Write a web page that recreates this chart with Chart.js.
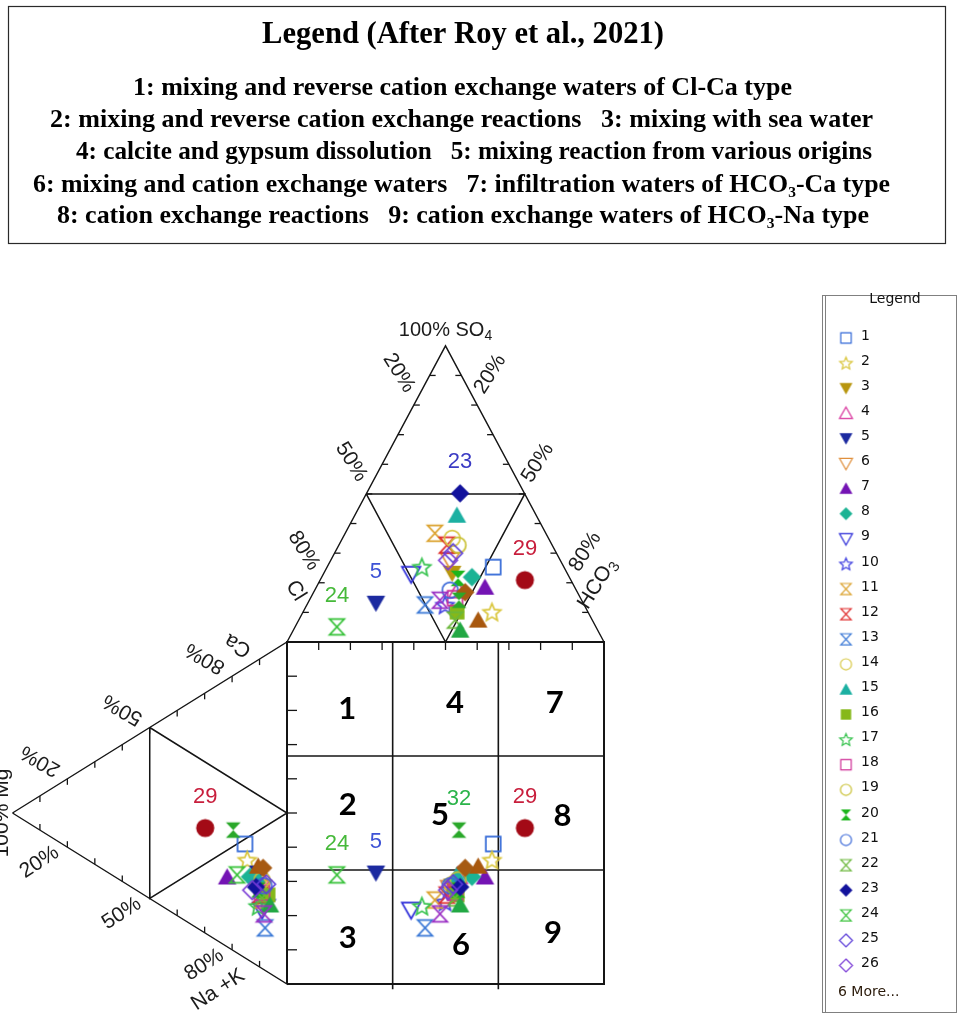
<!DOCTYPE html>
<html>
<head>
<meta charset="utf-8">
<script src="https://cdn.jsdelivr.net/npm/chart.js@4.4.1/dist/chart.umd.min.js"></script>
<style>
  html, body { margin: 0; padding: 0; background: #ffffff; }
  #wrap { position: relative; width: 958px; height: 1015px; }
</style>
</head>
<body>
<div id="wrap"><canvas id="durov" width="958" height="1015"></canvas></div>
<script>
// ---- Sample identifiers and ionic composition (% of meq/L) ----
const sampleIds = ['1','2','3','4','5','6','7','8','9','10','11','12','13','14','15','16',
                   '17','18','19','20','21','22','23','24','25','26','27','28','29','30','31','32'];
// anions
const clPct   = [22.3,30.3,36.3,37.3,65.4,34.8,28.3,30.7,49.4,43.9,35.0,33.2,50.2,30.4,25.0,41.3,
                 44.8,39.6,29.7,35.3,39.8,43.3,20.3,81.7,32.6,35.4,36.0,35.4,14.5,43.4,44.7,38.7];
const so4Pct  = [25.3,10.1,23.2,17.5,13.1,27.6,18.5,21.9,22.9,12.5,36.7,32.7,12.5,35.0,42.8,10.1,
                 25.3,14.8,32.7,21.5,17.5, 7.4,50.2, 5.1,30.0,27.6, 7.4,16.8,20.9, 4.0,14.1,14.1];
const hco3Pct = [52.4,59.6,40.5,45.2,21.5,37.6,53.2,47.4,27.7,43.6,28.3,34.1,37.3,34.6,32.2,48.6,
                 29.9,45.6,37.6,43.2,42.7,49.3,29.5,13.2,37.4,37.0,56.6,47.8,64.6,52.6,41.2,47.2];
// cations
const caPct   = [33.3,29.0,23.4,26.7,27.2,23.5,20.4,24.6,17.1,20.2,20.0,21.1,12.4,23.9,26.2,22.6,
                 17.5,22.1,25.9,22.2,24.5,20.6,22.7,22.8,25.4,21.1,29.2,29.6,30.7,20.0,16.3,35.2];
const mgPct   = [15.3,14.5,10.5, 9.8,10.5, 9.1,21.8,13.5, 9.1, 7.6, 9.1, 9.8, 8.0,10.5,11.3, 6.9,
                 10.5, 9.1, 9.1,10.5, 8.4, 9.1,11.3,18.2, 7.6,12.7,10.5, 8.7,29.8, 6.2, 8.4,19.6];
const naKPct  = [51.4,56.5,66.1,63.5,62.3,67.4,57.8,61.9,73.8,72.2,70.9,69.1,79.6,65.6,62.5,70.5,
                 72.0,68.8,65.0,67.3,67.1,70.3,66.0,59.0,67.0,66.2,60.3,61.7,39.5,73.8,75.3,45.2];

// samples annotated with their number in each field
const anionTagged  = ['5','23','24','29'];
const cationTagged = ['29'];
const squareTagged = ['5','24','29','32'];

// ---- Marker appearance per sample ----
const sampleShape = ['square','star','triDown','triUp','triDown','triDown','triUp','diamond',
                     'triDown','star','hourglass','hourglass','hourglass','circle','triUp','square',
                     'star','square','circle','hourglass','circle','hourglass','diamond','hourglass',
                     'diamond','diamond','triUp','diamond','circle','triUp','hourglass','hourglass'];
const sampleColor = ['#2f66d6','#d9c53a','#b8960e','#d8329c','#1c2aa0','#e0903e','#7414b4','#1bb394',
                     '#2b2bd8','#3f3fe0','#dba22e','#df2a2a','#3a78d6','#d8c844','#1cb0a2','#86b81a',
                     '#34c24c','#cf2f96','#c9c032','#1cb51c','#3a68d8','#6ab73a','#12129c','#38c23a',
                     '#5a3cd8','#7a3cd6','#a8580e','#a65a12','#a30a16','#22a844','#9a30c4','#2aa82a'];
const sampleFilled = [false,false,true,false,true,false,true,true,
                      false,false,false,false,false,false,true,true,
                      false,false,false,true,false,false,true,false,
                      false,false,true,true,true,true,false,true];
const tagColor = { '5': '#3d52d5', '23': '#3b3bc4', '24': '#46b93a', '29': '#c81e3c', '32': '#2bb44a' };

// ---- Legend texts ----
const legendTitle = 'Legend (After Roy et al., 2021)';
const legendLines = [
  '1: mixing and reverse cation exchange waters of Cl-Ca type',
  '2: mixing and reverse cation exchange reactions   3: mixing with sea water',
  '4: calcite and gypsum dissolution   5: mixing reaction from various origins',
  '6: mixing and cation exchange waters   7: infiltration waters of HCO\u2083-Ca type',
  '8: cation exchange reactions   9: cation exchange waters of HCO\u2083-Na type'
];
const sideLegendTitle = 'Legend';
const sideLegendShown = 26;
const sideLegendMore = '6 More...';

// ---- Field captions and edge percentages ----
const regionNames = ['1','2','3','4','5','6','7','8','9'];
const edgePercents = [20, 50, 80];

// ---- Diagram geometry (square spans 0..100 on both axes) ----
const H = Math.sqrt(3) / 2 * 100;
function anionPt(cl, so4, hco3) {
  const t = cl + so4 + hco3;
  return { x: (0.5 * so4 + hco3) / t * 100, y: 100 + H * so4 / t };
}
function cationPt(ca, mg, na) {
  const t = ca + mg + na;
  return { x: -H * mg / t, y: (ca + 0.5 * mg) / t * 100 };
}
function squarePt(i) {
  return { x: anionPt(clPct[i], so4Pct[i], hco3Pct[i]).x,
           y: cationPt(caPct[i], mgPct[i], naKPct[i]).y };
}

// ---- Marker bitmaps ----
function markerCanvas(shape, color, filled, size) {
  const pad = 3;
  const c = document.createElement('canvas');
  c.width = c.height = Math.round(size + pad * 2);
  const g = c.getContext('2d');
  const m = c.width / 2, r = size / 2;
  g.lineWidth = Math.max(1.2, size / 11);
  g.strokeStyle = color; g.fillStyle = color;
  g.lineJoin = 'miter';
  g.beginPath();
  switch (shape) {
    case 'square': g.rect(m - r * 0.8, m - r * 0.8, r * 1.6, r * 1.6); break;
    case 'circle': g.arc(m, m, r * (filled ? 0.98 : 0.85), 0, Math.PI * 2); break;
    case 'triUp':
      g.moveTo(m, m - r * 0.95); g.lineTo(m + r, m + r * 0.8); g.lineTo(m - r, m + r * 0.8); g.closePath(); break;
    case 'triDown':
      g.moveTo(m, m + r * 0.95); g.lineTo(m + r, m - r * 0.8); g.lineTo(m - r, m - r * 0.8); g.closePath(); break;
    case 'diamond':
      g.moveTo(m, m - r); g.lineTo(m + r, m); g.lineTo(m, m + r); g.lineTo(m - r, m); g.closePath(); break;
    case 'star':
      for (let k = 0; k < 10; k++) {
        const a = -Math.PI / 2 + k * Math.PI / 5;
        const rr = k % 2 ? r * 0.45 : r;
        const px = m + rr * Math.cos(a), py = m + rr * Math.sin(a) + r * 0.08;
        if (k) g.lineTo(px, py); else g.moveTo(px, py);
      }
      g.closePath(); break;
    case 'hourglass':
      g.moveTo(m - r * 0.8, m - r * 0.85); g.lineTo(m + r * 0.8, m - r * 0.85);
      g.lineTo(m - r * 0.8, m + r * 0.85); g.lineTo(m + r * 0.8, m + r * 0.85); g.closePath(); break;
  }
  if (filled) g.fill(); else g.stroke();
  return c;
}

// ---- Datasets ----
const frameLines = [
  [anionPt(100,0,0), anionPt(0,100,0), anionPt(0,0,100), anionPt(100,0,0)],
  [anionPt(50,50,0), anionPt(0,50,50), anionPt(50,0,50), anionPt(50,50,0)],
  [cationPt(0,100,0), cationPt(100,0,0), cationPt(0,0,100), cationPt(0,100,0)],
  [cationPt(50,50,0), cationPt(0,50,50), cationPt(50,0,50), cationPt(50,50,0)],
  [{x:0,y:0},{x:100,y:0},{x:100,y:100},{x:0,y:100},{x:0,y:0}],
  [{x:100/3,y:-1.5},{x:100/3,y:100}],
  [{x:200/3,y:-1.5},{x:200/3,y:100}],
  [{x:0,y:100/3},{x:100,y:100/3}],
  [{x:0,y:200/3},{x:100,y:200/3}]
];
const frameWidths = [1.4, 1.5, 1.4, 1.5, 2, 1.6, 1.6, 1.6, 1.6];

const datasets = [];
frameLines.forEach((pts, k) => datasets.push({
  label: 'frame' + k, data: pts, showLine: true, fill: false,
  borderColor: '#151515', borderWidth: frameWidths[k], pointRadius: 0, order: 1000
}));
sampleIds.forEach((id, i) => datasets.push({
  label: id,
  data: [anionPt(clPct[i], so4Pct[i], hco3Pct[i]),
         cationPt(caPct[i], mgPct[i], naKPct[i]),
         squarePt(i)],
  pointStyle: markerCanvas(sampleShape[i], sampleColor[i], sampleFilled[i], 18.5),
  pointRadius: 9, showLine: false, order: 100 - i
}));

const legendMarkers = sampleIds.map((id, i) => markerCanvas(sampleShape[i], sampleColor[i], sampleFilled[i], 13));

// ---- Text helpers ----
function richText(ctx, x, y, deg, segs, size, family, color) {
  ctx.save();
  ctx.translate(x, y);
  ctx.rotate(deg * Math.PI / 180);
  ctx.fillStyle = color;
  ctx.textBaseline = 'middle';
  ctx.textAlign = 'left';
  let total = 0;
  segs.forEach(s => { ctx.font = Math.round(size * (s.sub ? 0.7 : 1)) + 'px ' + family; s.w = ctx.measureText(s.t).width; total += s.w; });
  let cx = -total / 2;
  segs.forEach(s => {
    ctx.font = Math.round(size * (s.sub ? 0.7 : 1)) + 'px ' + family;
    ctx.fillText(s.t, cx, s.sub ? size * 0.28 : 0);
    cx += s.w;
  });
  ctx.restore();
}

const SANS = '"Liberation Sans", Arial, sans-serif';

const decor = {
  id: 'decor',
  beforeDatasetsDraw(chart) {
    const { ctx } = chart;
    const xs = chart.scales.x, ys = chart.scales.y;
    const P = p => [xs.getPixelForValue(p.x), ys.getPixelForValue(p.y)];
    ctx.save();
    ctx.strokeStyle = '#151515';
    ctx.lineWidth = 1.3;
    const tick = (p, dx, dy) => {
      const [x, y] = P(p);
      ctx.beginPath(); ctx.moveTo(x, y); ctx.lineTo(x + dx, y + dy); ctx.stroke();
    };
    for (let k = 10; k < 100; k += 10) {
      tick(anionPt(k, 100 - k, 0), 6, 0);
      tick(anionPt(0, 100 - k, k), -6, 0);
      tick({ x: k, y: 100 }, 0, 8);
      tick({ x: 0, y: k }, 10, 0);
      tick(cationPt(k, 100 - k, 0), 0, 6);
      tick(cationPt(0, 100 - k, k), 0, -6);
    }
    ctx.restore();
  },
  afterDraw(chart) {
    const { ctx } = chart;
    const xs = chart.scales.x, ys = chart.scales.y;
    const P = p => [xs.getPixelForValue(p.x), ys.getPixelForValue(p.y)];
    const ink = '#1b1b1b';

    // apex caption
    const [ax, ay] = P(anionPt(0, 100, 0));
    richText(ctx, ax, ay - 15, 0, [{ t: '100% SO' }, { t: '4', sub: true }], 20, SANS, ink);

    // anion edges
    edgePercents.forEach(v => {
      const [x1, y1] = P(anionPt(v, 100 - v, 0));
      richText(ctx, x1 - 15, y1 - 32, 58, [{ t: v + '%' }], 21, SANS, ink);
      const [x2, y2] = P(anionPt(0, 100 - v, v));
      richText(ctx, x2 + 13, y2 - 31, -58, [{ t: v + '%' }], 21, SANS, ink);
    });
    {
      const [x1, y1] = P(anionPt(80, 20, 0));
      richText(ctx, x1 - 23, y1 + 8, 58, [{ t: 'Cl' }], 21, SANS, ink);
      const [x2, y2] = P(anionPt(0, 20, 80));
      richText(ctx, x2 + 25, y2 + 1, -58, [{ t: 'HCO' }, { t: '3', sub: true }], 21, SANS, ink);
    }
    // cation edges
    edgePercents.forEach(v => {
      const [x1, y1] = P(cationPt(v, 100 - v, 0));
      richText(ctx, x1 - 27, y1 - 18, 210, [{ t: v + '%' }], 21, SANS, ink);
      const [x2, y2] = P(cationPt(0, 100 - v, v));
      richText(ctx, x2 - 28, y2 + 15, -33, [{ t: v + '%' }], 21, SANS, ink);
    });
    {
      const [x1, y1] = P(cationPt(80, 20, 0));
      richText(ctx, x1 + 6, y1 - 31, 210, [{ t: 'Ca' }], 21, SANS, ink);
      const [x2, y2] = P(cationPt(0, 20, 80));
      richText(ctx, x2 - 14, y2 + 40, -33, [{ t: 'Na +K' }], 21, SANS, ink);
      const [x3, y3] = P(cationPt(0, 100, 0));
      richText(ctx, x3 - 10, y3, -90, [{ t: '100% Mg' }], 21, SANS, ink);
    }

    // field captions inside the square
    const regionAt = [[19, 80.4], [19.2, 52.3], [19.2, 13.5], [53, 82.2], [48.3, 49.4], [54.9, 11.4], [84.5, 82.2], [86.9, 49.1], [83.9, 14.9]];
    ctx.save();
    ctx.font = 'bold 31px Lato, "Liberation Sans", sans-serif';
    ctx.fillStyle = '#000';
    ctx.textAlign = 'center'; ctx.textBaseline = 'middle';
    regionNames.forEach((n, k) => {
      const [x, y] = P({ x: regionAt[k][0], y: regionAt[k][1] });
      ctx.fillText(n, x, y);
    });
    ctx.restore();

    // sample number tags
    ctx.save();
    ctx.font = '22px ' + SANS;
    ctx.textAlign = 'center'; ctx.textBaseline = 'middle';
    const tag = (id, p) => {
      const [x, y] = P(p);
      ctx.fillStyle = tagColor[id];
      ctx.fillText(id, x, y - 31);
    };
    anionTagged.forEach(id => { const i = sampleIds.indexOf(id); tag(id, anionPt(clPct[i], so4Pct[i], hco3Pct[i])); });
    cationTagged.forEach(id => { const i = sampleIds.indexOf(id); tag(id, cationPt(caPct[i], mgPct[i], naKPct[i])); });
    squareTagged.forEach(id => { const i = sampleIds.indexOf(id); tag(id, squarePt(i)); });
    ctx.restore();

    // process legend box
    ctx.save();
    ctx.strokeStyle = '#2a2a2a'; ctx.lineWidth = 1.2;
    ctx.strokeRect(8.5, 6.5, 937, 237);
    ctx.fillStyle = '#000';
    ctx.textBaseline = 'alphabetic'; ctx.textAlign = 'left';
    const fitLine = (text, x0, width, base, font) => {
      ctx.font = font;
      const w = ctx.measureText(text).width;
      ctx.save(); ctx.translate(x0, base); ctx.scale(width / w, 1); ctx.fillText(text, 0, 0); ctx.restore();
    };
    const SERIF = '"Liberation Serif", "Times New Roman", serif';
    fitLine(legendTitle, 262, 402, 43, 'bold 31px ' + SERIF);
    const lineBox = [[133, 659, 95], [50, 823, 127], [76, 796, 159], [33, 857, 192], [57, 812, 223]];
    legendLines.forEach((t, k) => fitLine(t, lineBox[k][0], lineBox[k][1], lineBox[k][2], 'bold 26px ' + SERIF));
    ctx.restore();

    // sample legend
    ctx.save();
    ctx.strokeStyle = '#808080'; ctx.lineWidth = 1;
    ctx.strokeRect(822.5, 295.5, 134, 717);
    ctx.beginPath(); ctx.moveTo(825.5, 296); ctx.lineTo(825.5, 1012); ctx.stroke();
    ctx.fillStyle = '#111';
    ctx.font = '14px "DejaVu Sans", sans-serif';
    ctx.textAlign = 'center'; ctx.textBaseline = 'middle';
    ctx.fillText(sideLegendTitle, 895, 299);
    ctx.textAlign = 'left';
    for (let i = 0; i < sideLegendShown; i++) {
      const y = 338 + i * 25.1;
      const mk = legendMarkers[i];
      ctx.drawImage(mk, 846 - mk.width / 2, y - mk.height / 2);
      ctx.fillStyle = '#111';
      ctx.fillText(sampleIds[i], 861, y - 2);
    }
    ctx.fillStyle = '#2a1a0a';
    ctx.fillText(sideLegendMore, 838, 992);
    ctx.restore();
  }
};

new Chart(document.getElementById('durov'), {
  type: 'scatter',
  data: { datasets },
  options: {
    responsive: false,
    animation: false,
    devicePixelRatio: 1,
    events: [],
    layout: { padding: 0, autoPadding: false },
    scales: {
      x: { type: 'linear', display: false, min: -287 / 3.17, max: (958 - 287) / 3.17 },
      y: { type: 'linear', display: false, min: (984 - 1015) / 3.42, max: 984 / 3.42 }
    },
    plugins: { legend: { display: false }, tooltip: { enabled: false } }
  },
  plugins: [decor]
});
</script>
</body>
</html>
